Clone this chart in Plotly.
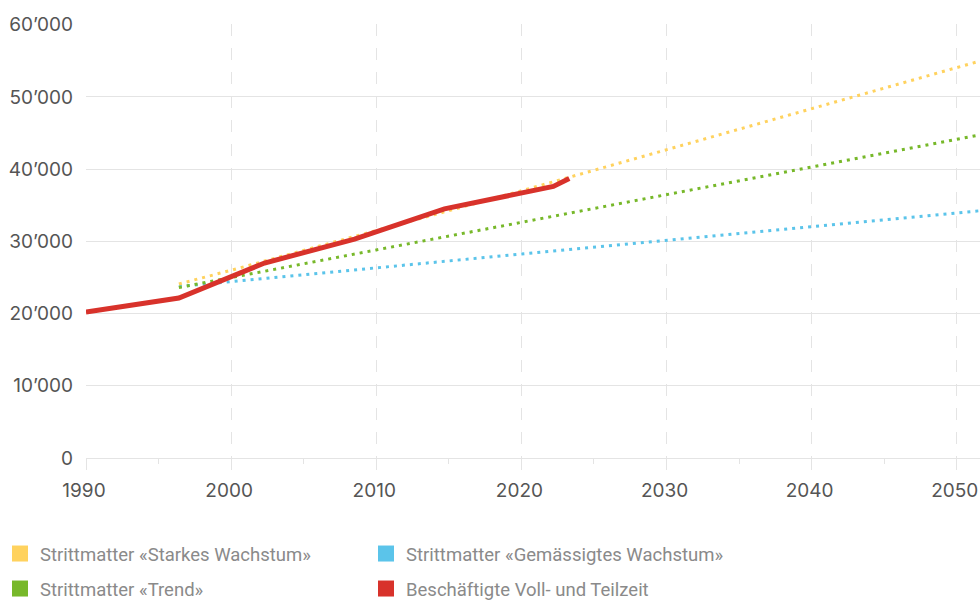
import plotly.graph_objects as go

# ---- data ----
years_actual = [1990, 1996.4, 2002.3, 2008.5, 2014.7, 2021.0, 2022.2, 2023.3]
employment = [20200, 22150, 27000, 30300, 34500, 37000, 37600, 38700]

proj_years = [1996.4, 2000, 2020, 2040, 2052]
starkes = [24100, 26000, 37000, 48400, 55200]
trend = [23600, 24980, 32600, 40250, 44900]
gemaessigt = [23750, 24430, 28200, 32030, 34320]

names = ["Strittmatter «Starkes Wachstum»", "Strittmatter «Gemässigtes Wachstum»",
         "Strittmatter «Trend»", "Beschäftigte Voll- und Teilzeit"]
colors = ["#FFD25E", "#5BC4EA", "#77B82A", "#D8322B"]

y_tickvals = [0, 10000, 20000, 30000, 40000, 50000, 60000]
y_ticktext = ["0", "10’000", "20’000", "30’000", "40’000", "50’000", "60’000"]
x_tickvals = [1990, 2000, 2010, 2020, 2030, 2040, 2050]

fig = go.Figure()

dot = "3px,5px"
fig.add_trace(go.Scatter(x=proj_years, y=gemaessigt, mode="lines",
                         line=dict(color=colors[1], width=3, dash=dot), showlegend=False))
fig.add_trace(go.Scatter(x=proj_years, y=trend, mode="lines",
                         line=dict(color=colors[2], width=3, dash=dot), showlegend=False))
fig.add_trace(go.Scatter(x=proj_years, y=starkes, mode="lines",
                         line=dict(color=colors[0], width=3, dash=dot), showlegend=False))
fig.add_trace(go.Scatter(x=years_actual, y=employment, mode="lines",
                         line=dict(color=colors[3], width=5), showlegend=False))

# legend entries (squares)
legend_ids = ["legend", "legend", "legend2", "legend2"]
for i in range(4):
    fig.add_trace(go.Scatter(x=[None], y=[None], mode="markers", name=names[i],
                             marker=dict(symbol="square", size=16, color=colors[i]),
                             legend=legend_ids[i], showlegend=True))

legend_common = dict(orientation="h", xref="container", yref="container",
                     x=0.0, xanchor="left", yanchor="middle",
                     font=dict(family="Roboto", size=18.5, color="#8a8a8a"),
                     entrywidth=321, itemwidth=30, bgcolor="rgba(0,0,0,0)",
                     traceorder="normal")

fig.update_layout(
    width=980, height=601,
    margin=dict(l=86, r=0, t=24, b=143, autoexpand=False),
    paper_bgcolor="white", plot_bgcolor="white",
    font=dict(family="Inter", size=19, color="#555555"),
    legend=dict(**legend_common, y=1 - 554 / 601),
    legend2=dict(**legend_common, y=1 - 589 / 601),
    xaxis=dict(range=[1990, 2051.6], tickvals=x_tickvals, automargin=False,
               showgrid=True, gridcolor="#e4e4e4", griddash="12px,12px", gridwidth=1,
               showline=True, linecolor="#e4e4e4", linewidth=1,
               ticks="outside", ticklen=11, tickcolor="#e4e4e4", tickwidth=1,
               ticklabelstandoff=4, ticklabeloverflow="allow", ticklabelshift=-2,
               minor=dict(dtick=5, tick0=1990, ticks="outside", ticklen=5,
                          tickcolor="#e4e4e4", showgrid=False),
               zeroline=False, fixedrange=True),
    yaxis=dict(range=[0, 60100], tickvals=y_tickvals, ticktext=y_ticktext,
               automargin=False,
               showgrid=True, gridcolor="#e4e4e4", gridwidth=1,
               zeroline=False, showline=False, ticks="", ticklabelstandoff=12,
               fixedrange=True),
)

fig.write_html("out.html", config={"displayModeBar": False},
               post_script="document.body.style.margin='0';document.body.style.overflow='hidden';")
